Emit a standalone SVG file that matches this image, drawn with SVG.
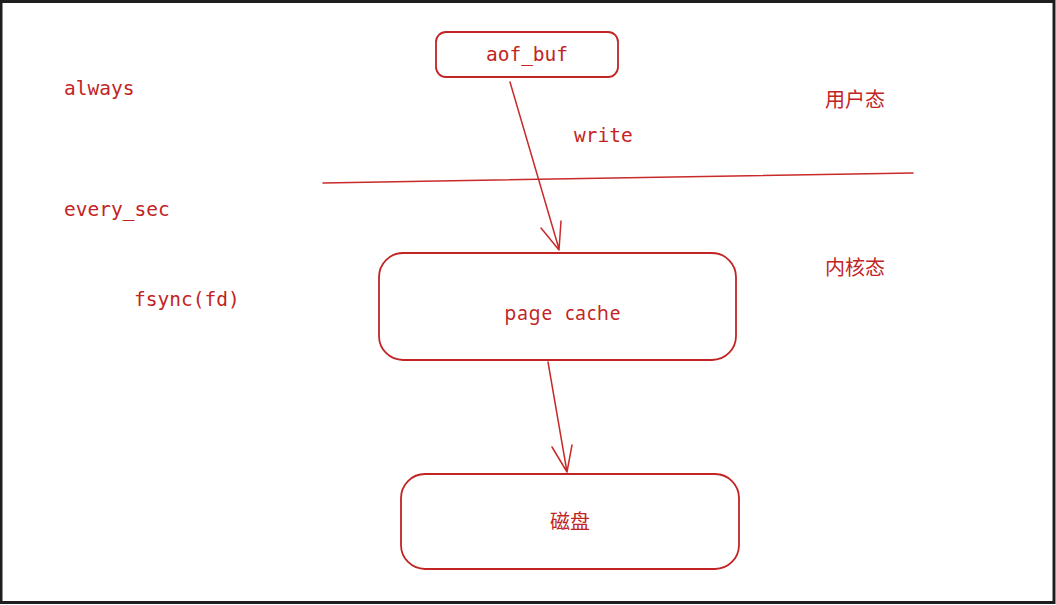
<svg xmlns="http://www.w3.org/2000/svg" width="1056" height="605" viewBox="0 0 1056 605">
<style>
.box{fill:#fff;stroke:#c22424;stroke-width:1.8}
.ln{fill:none;stroke:#c92a2a;stroke-width:1.5;stroke-linecap:round}
.t{fill:#c22424;font-family:"DejaVu Sans Mono","Liberation Mono",monospace;font-size:19.5px}
.cjk{fill:#c22424;font-family:"Noto Sans CJK SC",sans-serif;font-size:20px}
.s{fill:#c22424;font-family:"Noto Sans","Liberation Sans",sans-serif;font-size:19px;letter-spacing:1px;word-spacing:6px}
</style>
<rect x="0" y="0" width="1056" height="605" fill="#fff"/>
<rect x="1" y="1.5" width="1053" height="601" fill="none" stroke="#1e1e1e" stroke-width="3"/>
<g id="connectors">
<path class="ln" d="M323 183 L913 173"/>
<path class="ln" d="M510 82 L559 249 M541 228 L559 250 M561 221 L559 250"/>
<path class="ln" d="M548 362 L567 472 M552 447 L567 472 M572 445 L567 472"/>
</g>
<g id="aof_buf">
<rect class="box" x="436" y="32" width="182" height="45" rx="10"/>
<text class="t" x="527" y="61" text-anchor="middle">aof_buf</text>
</g>
<g id="page_cache">
<rect class="box" x="379" y="253" width="357" height="107" rx="24"/>
<text class="s" x="563" y="320" text-anchor="middle">page cache</text>
</g>
<g id="disk">
<rect class="box" x="401" y="474" width="338" height="95" rx="24"/>
<text class="cjk" x="570" y="529" text-anchor="middle">磁盘</text>
</g>
<g id="labels">
<text class="t" x="64" y="95">always</text>
<text class="t" x="574" y="142">write</text>
<text class="t" x="64" y="216">every_sec</text>
<text class="t" x="134" y="306">fsync(fd)</text>
<text class="cjk" x="825" y="107">用户态</text>
<text class="cjk" x="825" y="275">内核态</text>
</g>
</svg>
